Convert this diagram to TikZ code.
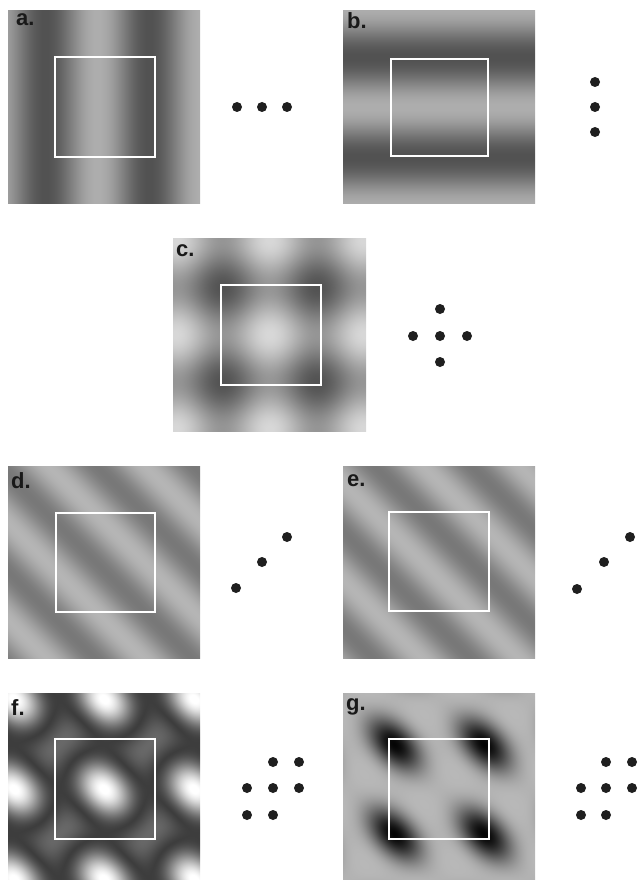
\documentclass[tikz,border=0pt]{standalone}
\usepackage{fontspec}
\setmainfont{Liberation Sans}
\usepackage{tikz}

% fringe patterns, one panel = -25bp..25bp of the shading
\pgfdeclarefunctionalshading{fringeA}{\pgfpoint{-50bp}{-50bp}}{\pgfpoint{50bp}{50bp}}{}{
  pop 13.292 mul 24.23 add cos 0.18 mul 0.5 add dup dup
}
\pgfdeclarefunctionalshading{fringeB}{\pgfpoint{-50bp}{-50bp}}{\pgfpoint{50bp}{50bp}}{}{
  exch pop 13.8 mul cos 0.18 mul 0.5 add dup dup
}
\pgfdeclarefunctionalshading{fringeC}{\pgfpoint{-50bp}{-50bp}}{\pgfpoint{50bp}{50bp}}{}{
  14.706 mul cos exch 14.706 mul cos add 0.13 mul 0.585 add dup dup
}
\pgfdeclarefunctionalshading{fringeD}{\pgfpoint{-50bp}{-50bp}}{\pgfpoint{50bp}{50bp}}{}{
  add 14.252 mul 148.45 sub cos 0.12 mul 0.59 add dup dup
}
\pgfdeclarefunctionalshading{fringeE}{\pgfpoint{-50bp}{-50bp}}{\pgfpoint{50bp}{50bp}}{}{
  add 14.252 mul 63.09 add cos 0.12 mul 0.59 add dup dup
}
\pgfdeclarefunctionalshading{fringeF}{\pgfpoint{-50bp}{-50bp}}{\pgfpoint{50bp}{50bp}}{}{
  2 copy add 15.36 mul cos 0.5 mul 3 1 roll 15.36 mul cos exch 15.36 mul cos add add
  2 mul 1 add dup mul 36 div 0.7 exp 0.78 mul 0.24 add
  dup 1 sub abs neg add 1 add 0.5 mul dup dup
}
\pgfdeclarefunctionalshading{fringeG}{\pgfpoint{-50bp}{-50bp}}{\pgfpoint{50bp}{50bp}}{}{
  2 copy add 15.36 mul cos 3 1 roll 15.36 mul cos exch 15.36 mul cos add sub
  2 mul 3 add abs 9 div 1.6 exp 0.7 mul neg 0.72 add dup dup
}

\begin{document}
\begin{tikzpicture}[
    x=1pt, y=-1pt,
    window/.style={draw=white, line width=1.6pt},
    tag/.style={anchor=base west, inner sep=0pt, font=\fontsize{22}{22}\selectfont\bfseries, text=black!90},
    spot/.style={fill=black!88}
  ]
    \useasboundingbox (0,0) rectangle (637,880);
    \begin{scope}
    \clip (0,0) rectangle (637,880);

    % Panel a - vertical fringes
    \shade[shading=fringeA] (8,11) rectangle (200,203);
    \draw[window] (55,57) rectangle (155,157);
    \node[tag] (labA) at (16,26) {a.};
    \foreach \x in {237,262,287} \fill[spot] (\x,107) circle (5pt);

    % Panel b - horizontal fringes
    \shade[shading=fringeB] (343,11) rectangle (535,203);
    \draw[window] (391,59) rectangle (488,156);
    \node[tag] (labB) at (347,29) {b.};
    \foreach \y in {82,107,132} \fill[spot] (595,\y) circle (5pt);

    % Panel c - square lattice
    \shade[shading=fringeC] (173,238) rectangle (366,431);
    \draw[window] (221,285) rectangle (321,385);
    \node[tag] (labC) at (176,256) {c.};
    \foreach \x/\y in {440/309,413/336,440/336,467/336,440/362} \fill[spot] (\x,\y) circle (5pt);

    % Panel d - oblique fringes
    \shade[shading=fringeD] (8,466) rectangle (200,658);
    \draw[window] (56,513) rectangle (155,612);
    \node[tag] (labD) at (11,488) {d.};
    \foreach \x/\y in {236/588,262/562,287/537} \fill[spot] (\x,\y) circle (5pt);

    % Panel e - oblique fringes, shifted
    \shade[shading=fringeE] (343,466) rectangle (535,658);
    \draw[window] (389,512) rectangle (489,611);
    \node[tag] (labE) at (347,486) {e.};
    \foreach \x/\y in {577/589,604/562,630/537} \fill[spot] (\x,\y) circle (5pt);

    % Panel f - hexagonal lattice
    \shade[shading=fringeF] (8,693) rectangle (200,885);
    \draw[window] (55,739) rectangle (155,839);
    \node[tag] (labF) at (11,715) {f.};
    \foreach \x/\y in {273/762,299/762,247/788,273/788,299/788,247/815,273/815} \fill[spot] (\x,\y) circle (5pt);

    % Panel g - hexagonal lattice, shifted phases
    \shade[shading=fringeG] (343,693) rectangle (535,885);
    \draw[window] (389,739) rectangle (489,839);
    \node[tag] (labG) at (346,710) {g.};
    \foreach \x/\y in {606/762,632/762,581/788,606/788,632/788,581/815,606/815} \fill[spot] (\x,\y) circle (5pt);
    \end{scope}
\end{tikzpicture}
\end{document}
